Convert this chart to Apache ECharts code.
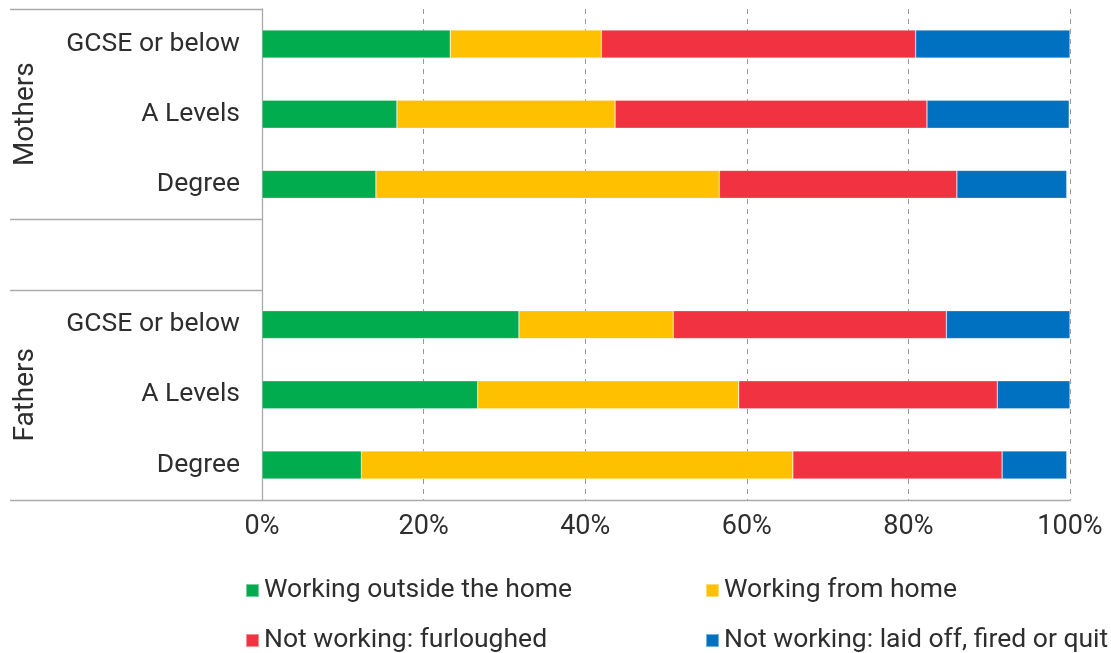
<!DOCTYPE html>
<html>
<head>
<meta charset="utf-8">
<script src="https://cdn.jsdelivr.net/npm/echarts@6/dist/echarts.min.js"></script>
<style>
  html, body { margin: 0; padding: 0; background: #fff; }
  #chart { width: 1111px; height: 653px; }
</style>
</head>
<body>
<div id="chart"></div>
<script>
// rows top to bottom; index 3 is the empty gap between the two groups
const rowLabels = ["GCSE or below", "A Levels", "Degree", "", "GCSE or below", "A Levels", "Degree"];
const rowKeys = ["m_gcse", "m_alev", "m_deg", "gap", "f_gcse", "f_alev", "f_deg"];
const groupLabels = ["Mothers", "Fathers"];
const xTicks = [0, 20, 40, 60, 80, 100];

const seriesNames = [
  "Working outside the home",
  "Working from home",
  "Not working: furloughed",
  "Not working: laid off, fired or quit"
];
const seriesColors = ["#00ac4e", "#ffc000", "#f03241", "#0070c0"];

const outsideHome = [23.3, 16.7, 14.1, "-", 31.8, 26.7, 12.3];
const fromHome = [18.7, 27.0, 42.5, "-", 19.1, 32.3, 53.4];
const furloughed = [38.9, 38.6, 29.4, "-", 33.8, 32.0, 25.9];
const laidOff = [19.1, 17.6, 13.6, "-", 15.3, 9.0, 8.0];

const seriesData = [outsideHome, fromHome, furloughed, laidOff];

const FONT = "Roboto, 'Noto Sans', sans-serif";
const TEXT = "#2e2e2e";
const LINE = "#aaaaaa";

const grid = { left: 262, right: 41, top: 9, bottom: 153 };
const plotH = 653 - grid.top - grid.bottom;
const step = plotH / rowKeys.length;
const boxLeft = 10;

const chart = echarts.init(document.getElementById("chart"), null, { renderer: "canvas" });

const legendItem = (name, left, top) => ({
  data: [name],
  left: left,
  top: top,
  icon: "rect",
  itemWidth: 13,
  itemHeight: 13,
  itemGap: 6,
  selectedMode: false,
  textStyle: { fontFamily: FONT, fontSize: 26.5, color: TEXT, padding: [0, 0, 0, 0] }
});

// box lines at left of the plot: top, group separators and bottom
const sepYs = [grid.top, grid.top + 3 * step, grid.top + 4 * step, grid.top + plotH];
const graphics = sepYs.map((y) => ({
  type: "line",
  shape: { x1: boxLeft, y1: Math.round(y) + 0.5, x2: grid.left, y2: Math.round(y) + 0.5 },
  style: { stroke: LINE, lineWidth: 1.3 }
}));
[1, 5].forEach((idx, g) => {
  graphics.push({
    type: "text",
    x: 26,
    y: grid.top + (idx + 0.5) * step,
    rotation: Math.PI / 2,
    style: {
      text: groupLabels[g],
      fontFamily: FONT,
      fontSize: 28,
      fill: TEXT,
      align: "center",
      verticalAlign: "middle"
    }
  });
});

chart.setOption({
  animation: false,
  backgroundColor: "#ffffff",
  grid: grid,
  legend: [
    legendItem(seriesNames[0], 240, 572),
    legendItem(seriesNames[1], 700, 572),
    legendItem(seriesNames[2], 240, 622),
    legendItem(seriesNames[3], 700, 622)
  ],
  xAxis: {
    type: "value",
    min: xTicks[0],
    max: xTicks[xTicks.length - 1],
    interval: xTicks[1] - xTicks[0],
    axisLine: { show: true, lineStyle: { color: LINE, width: 1.3 } },
    axisTick: { show: false },
    axisLabel: {
      formatter: "{value}%",
      fontFamily: FONT,
      fontSize: 27,
      color: TEXT,
      margin: 14
    },
    splitLine: { show: true, lineStyle: { color: "#999999", type: [5, 5], width: 1 } }
  },
  yAxis: {
    type: "category",
    inverse: true,
    data: rowKeys,
    axisLine: { show: true, lineStyle: { color: LINE, width: 1.3 } },
    axisTick: { show: false },
    axisLabel: {
      formatter: (v, i) => rowLabels[i],
      fontFamily: FONT,
      fontSize: 26.5,
      color: TEXT,
      margin: 22
    }
  },
  graphic: graphics,
  series: seriesNames.map((name, i) => ({
    name: name,
    type: "bar",
    stack: "total",
    barWidth: 28,
    data: seriesData[i],
    itemStyle: { color: seriesColors[i], borderColor: "rgba(255,255,255,0.45)", borderWidth: 0.6 },
    emphasis: { disabled: true }
  }))
});
</script>
</body>
</html>
